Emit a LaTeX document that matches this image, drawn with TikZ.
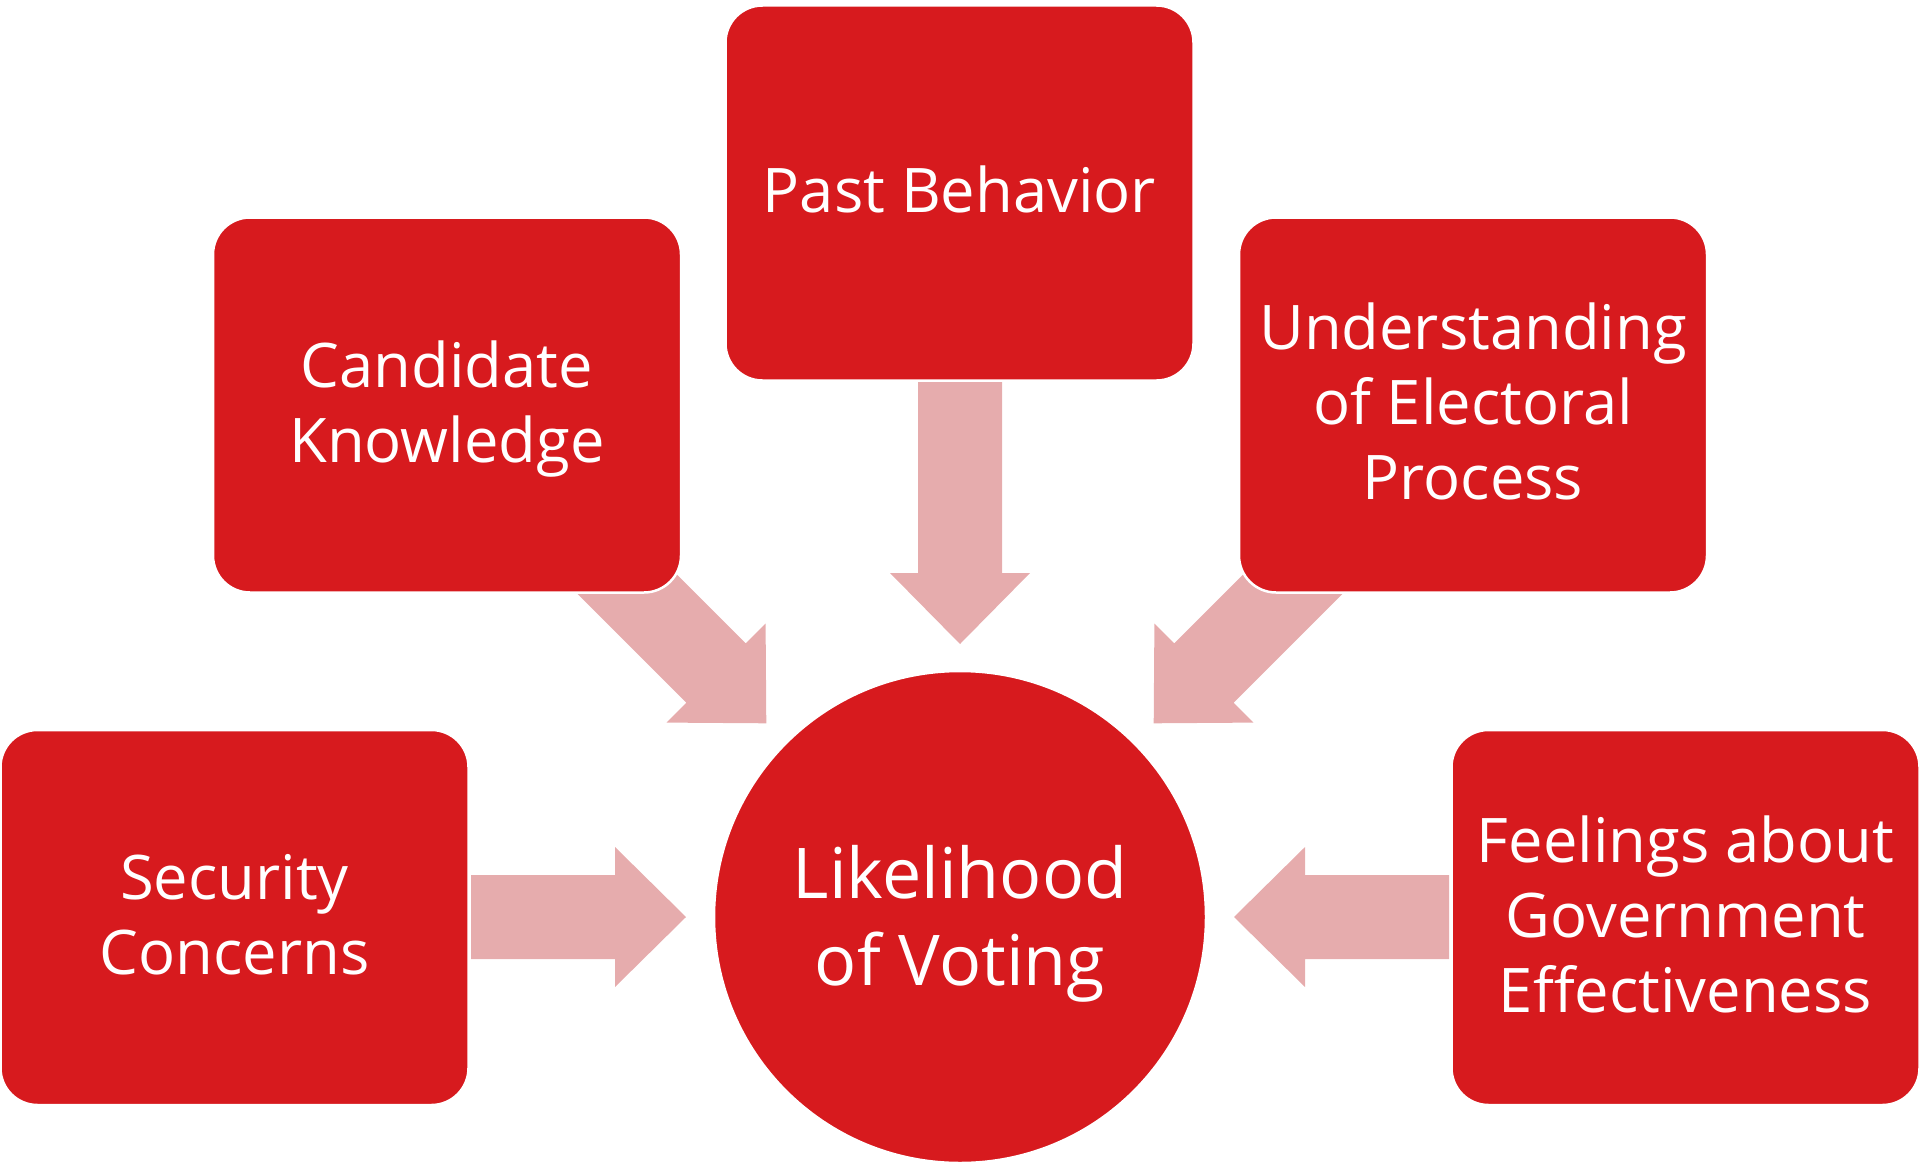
\documentclass[tikz,border=0pt]{standalone}
\usepackage{fontspec}
\setmainfont{Open Sans}
\usetikzlibrary{calc}
\definecolor{boxred}{HTML}{D71A1E}
\definecolor{arrowpink}{HTML}{E6ACAD}
\newcommand\capstrut{\vrule height 0.714em depth 0pt width 0pt}
\newcommand\basestrut{\vrule height 0pt depth 4pt width 0pt}
\newcommand\blockarrow[3]{%
  \fill[arrowpink, shift={#1}, rotate=#2]
    (-#3,-42) -- (-71,-42) -- (-71,-70) -- (0,0) -- (-71,70) -- (-71,42) -- (-#3,42) -- cycle;}
\tikzset{
  box/.style={rectangle, rounded corners=37pt, fill=boxred, draw=white, line width=2.5pt,
    minimum width=468pt, minimum height=375pt, inner sep=0pt, text=white, align=center,
    font=\fontsize{61.5}{75}\selectfont},
  hub/.style={circle, fill=boxred, draw=white, line width=2.5pt, minimum size=492pt,
    inner sep=0pt, text=white, align=center, font=\fontsize{70}{86.6}\selectfont}
}
\begin{document}
\begin{tikzpicture}[x=1pt,y=-1pt]
\useasboundingbox (0,0) rectangle (1920,1164);
\node[hub] (lk) at (960,917) {\capstrut\smash{Likelihood}\\\smash{of Voting}};
% block arrows
\blockarrow{($(lk.center)+(-274,0)$)}{0}{215}
\blockarrow{($(lk.center)+(274,0)$)}{180}{215}
\blockarrow{($(lk.center)+(0,-273)$)}{-90}{262}
\blockarrow{($(lk.center)+(-193.7,-193.7)$)}{-45}{262}
\blockarrow{($(lk.center)+(193.7,-193.7)$)}{-135}{262}
% boxes
\node[box] (pb) at (959.5,193) {\capstrut\smash{Past Behavior}\basestrut};
\node[box] (ck) at (447,405) {\capstrut\smash{Candidate}\\\smash{Knowledge}\basestrut};
\node[box] (ue) at (1473,405) {\capstrut\smash{Understanding}\\\smash{of Electoral}\\\smash{Process}\basestrut};
\node[box] (sc) at (234.5,917.5) {\capstrut\smash{Security}\\\smash{Concerns}\basestrut};
\node[box] (fg) at (1685.5,917.5) {\capstrut\smash{Feelings about}\\\smash{Government}\\\smash{Effectiveness}\basestrut};
\end{tikzpicture}
\end{document}
